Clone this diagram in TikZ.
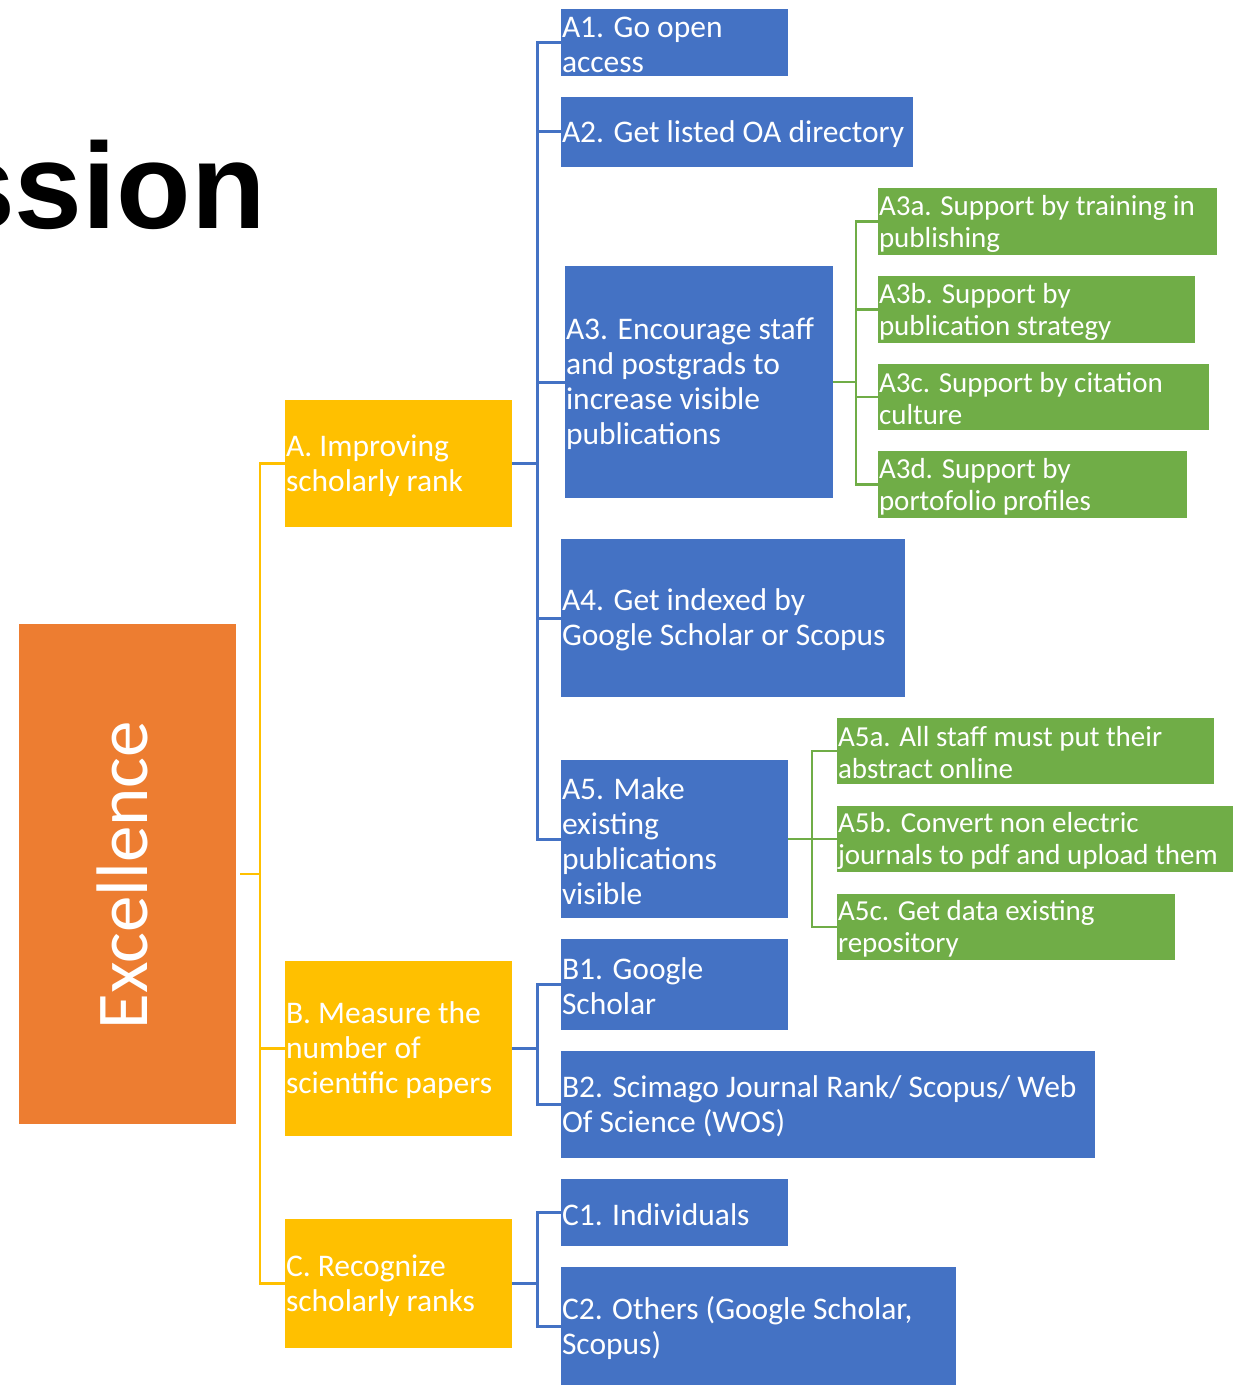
\documentclass[tikz,border=0pt]{standalone}
\usepackage{fontspec}
\setmainfont{Carlito}
\newfontfamily\titlefont{Liberation Sans}
\definecolor{cblue}{HTML}{4472C4}
\definecolor{cgreen}{HTML}{70AD47}
\definecolor{cyellow}{HTML}{FFC000}
\definecolor{corange}{HTML}{ED7D31}
\tikzset{
  boxbase/.style={inner sep=0pt, outer sep=0pt, draw=none, anchor=north west},
  bluebox/.style={boxbase, fill=cblue},
  greenbox/.style={boxbase, fill=cgreen},
  yellowbox/.style={boxbase, fill=cyellow},
  txtbase/.style={inner sep=0pt, outer sep=0pt, text=white, align=left, anchor=west},
  bluetext/.style={txtbase, font=\fontsize{31.5}{35}\selectfont},
  yellowtext/.style={txtbase, font=\fontsize{31.5}{35}\selectfont},
  greentext/.style={txtbase, font=\fontsize{29}{32}\selectfont},
  bconn/.style={draw=cblue, line width=3pt},
  gconn/.style={draw=cgreen, line width=2.5pt},
  yconn/.style={draw=cyellow, line width=2.5pt},
}
\newcommand{\mkbox}[7]{%
  \node[#2box, minimum width=#5, minimum height=#6] (#1) at (#3,#4) {};
  \node[#2text] (#1t) at ([xshift=1pt,yshift=-2pt]#1.west) {#7};
}
\begin{document}
\begin{tikzpicture}[x=1pt,y=-1pt]
\useasboundingbox (0,0) rectangle (1238,1386);
% title
\node[font=\titlefont\bfseries\fontsize{122}{130}\selectfont, anchor=base east, inner sep=0pt] (title) at (266,228) {ssion};
% root
\node[boxbase, fill=corange, minimum width=217, minimum height=500] (E) at (19,624) {};
\node[rotate=90, inner sep=0pt, text=white, font=\fontsize{73}{80}\selectfont] (Et) at ([xshift=-5pt,yshift=-1pt]E.center) {Excellence};
% level 1
\mkbox{A}{yellow}{285}{400}{227}{127}{A. Improving\\scholarly rank}
\mkbox{B}{yellow}{285}{961}{227}{175}{B. Measure the\\number of\\scientific papers}
\mkbox{C}{yellow}{285}{1219}{227}{129}{C. Recognize\\scholarly ranks}
% level 2
\mkbox{A1}{blue}{561}{9}{227}{67}{A1. Go open\\access}
\mkbox{A2}{blue}{561}{97}{352}{70}{A2. Get listed OA directory}
\mkbox{A3}{blue}{565}{266}{268}{232}{A3. Encourage staff\\and postgrads to\\increase visible\\publications}
\mkbox{A4}{blue}{561}{539}{344}{158}{A4. Get indexed by\\Google Scholar or Scopus}
\mkbox{A5}{blue}{561}{760}{227}{158}{A5. Make\\existing\\publications\\visible}
\mkbox{B1}{blue}{561}{939}{227}{91}{B1. Google\\Scholar}
\mkbox{B2}{blue}{561}{1051}{534}{107}{B2. Scimago Journal Rank/ Scopus/ Web\\Of Science (WOS)}
\mkbox{C1}{blue}{561}{1179}{227}{67}{C1. Individuals}
\mkbox{C2}{blue}{561}{1267}{395}{118}{C2. Others (Google Scholar,\\Scopus)}
% level 3
\mkbox{A3a}{green}{878}{188}{339}{67}{A3a. Support by training in\\publishing}
\mkbox{A3b}{green}{878}{276}{317}{67}{A3b. Support by\\publication strategy}
\mkbox{A3c}{green}{878}{364}{331}{66}{A3c. Support by citation\\culture}
\mkbox{A3d}{green}{878}{451}{309}{67}{A3d. Support by\\portofolio profiles}
\mkbox{A5a}{green}{837}{718}{377}{66}{A5a. All staff must put their\\abstract online}
\mkbox{A5b}{green}{837}{806}{396}{66}{A5b. Convert non electric\\journals to pdf and upload them}
\mkbox{A5c}{green}{837}{894}{338}{66}{A5c. Get data existing\\repository}
% connectors root
\draw[yconn, shorten <=4pt] (E.east) -- ++(24,0) coordinate (je);
\foreach \n in {A,B,C} \draw[yconn] (je) |- (\n.west);
% A
\draw[bconn] (A.east) -- ++(25,0) coordinate (ja);
\foreach \n in {A1,A2,A3,A4,A5} \draw[bconn] (ja) |- (\n.west);
% B
\draw[bconn] (B.east) -- ++(25,0) coordinate (jb);
\foreach \n in {B1,B2} \draw[bconn] (jb) |- (\n.west);
% C
\draw[bconn] (C.east) -- ++(25,0) coordinate (jc);
\foreach \n in {C1,C2} \draw[bconn] (jc) |- (\n.west);
% A3
\draw[gconn] (A3.east) -- ++(23,0) coordinate (ja3);
\foreach \n in {A3a,A3b,A3c,A3d} \draw[gconn] (ja3) |- (\n.west);
% A5
\draw[gconn] (A5.east) -- ++(24,0) coordinate (ja5);
\foreach \n in {A5a,A5b,A5c} \draw[gconn] (ja5) |- (\n.west);
\end{tikzpicture}
\end{document}
